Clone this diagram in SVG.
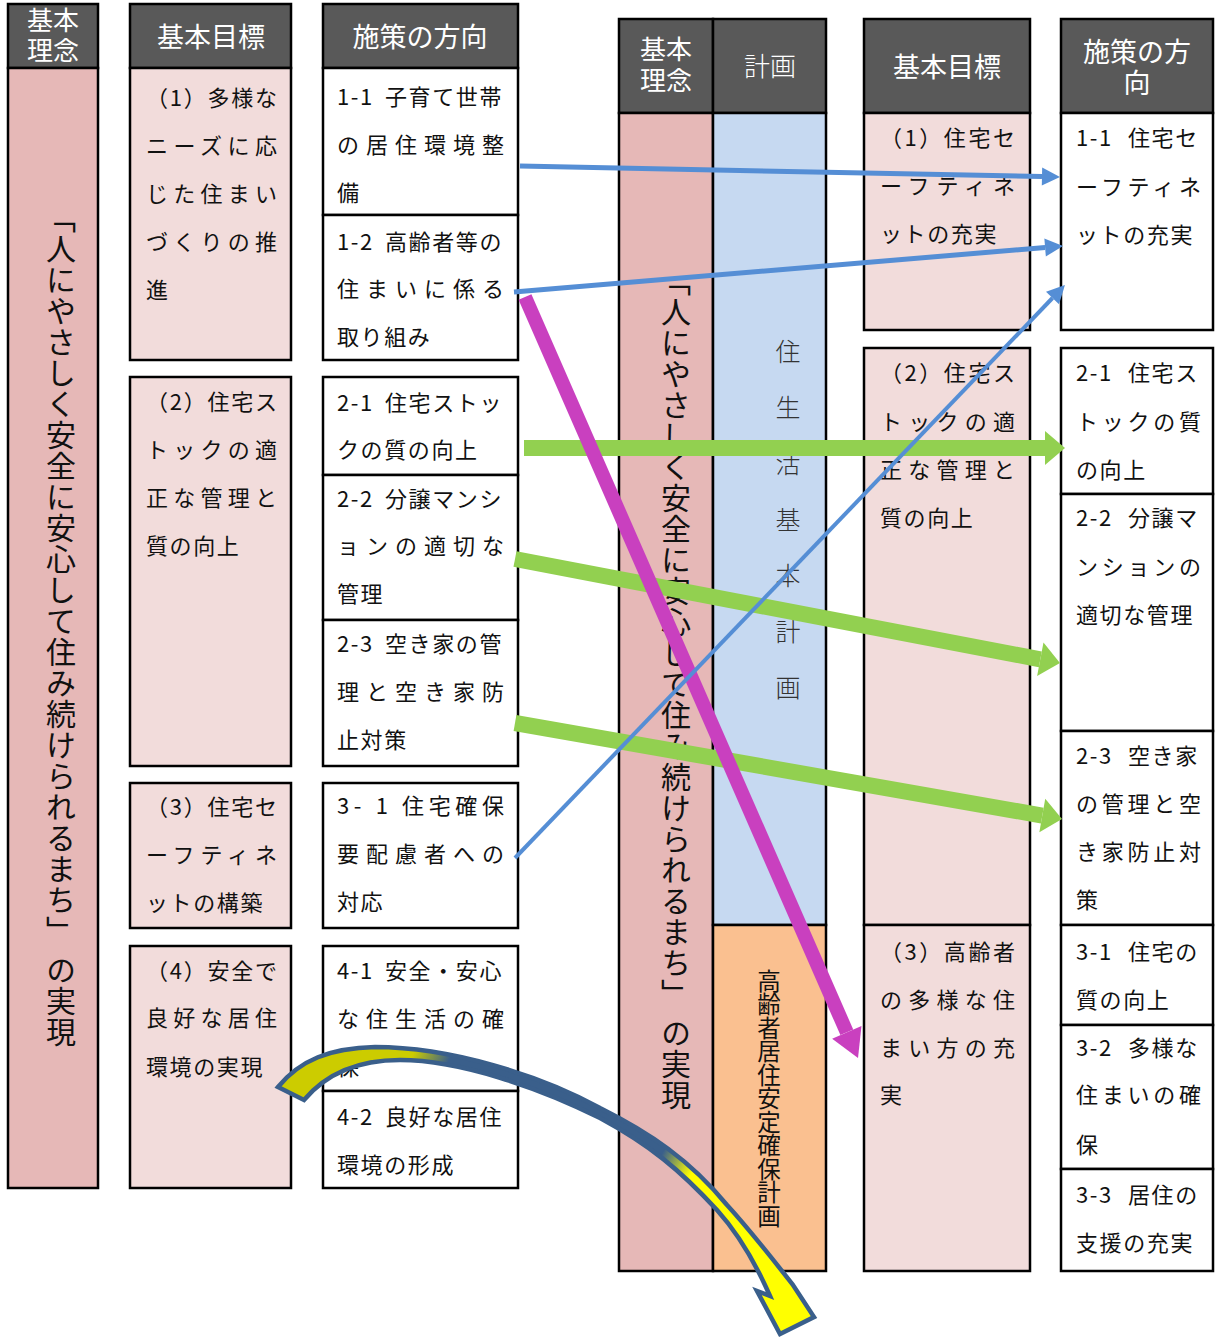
<svg xmlns="http://www.w3.org/2000/svg" width="1215" height="1338" viewBox="0 0 1215 1338">
<style>
rect{stroke:#000;stroke-width:2.5}
.hd{fill:#595959}
.pk{fill:#E6B8B7}
.lp{fill:#F2DCDB}
.wh{fill:#FFFFFF}
.bl{fill:#C6D9F1}
.or{fill:#FAC090}
text{font-family:"Noto Sans CJK JP","Noto Sans CJK SC",sans-serif}
.h{fill:#fff;font-size:27px;text-anchor:middle}
.t{fill:#111;font-size:22px}
.n{letter-spacing:1.6px}
.v{font-size:30px;fill:#111;writing-mode:vertical-rl;letter-spacing:1px}
</style>
<defs>
<marker id="mb" markerUnits="userSpaceOnUse" markerWidth="20" markerHeight="20" refX="0" refY="0" viewBox="0 -10 20 20" orient="auto" overflow="visible"><path d="M0,-9 L18,0 L0,9 Z" fill="#558ED5"/></marker>
<marker id="mg" markerUnits="userSpaceOnUse" markerWidth="22" markerHeight="36" refX="0" refY="0" viewBox="0 -18 22 36" orient="auto" overflow="visible"><path d="M0,-17 L20,0 L0,17 Z" fill="#92D050"/></marker>
<marker id="mm" markerUnits="userSpaceOnUse" markerWidth="30" markerHeight="34" refX="0" refY="0" viewBox="0 -17 30 34" orient="auto" overflow="visible"><path d="M0,-16 L28,0 L0,16 Z" fill="#C940BF"/></marker>
<linearGradient id="cg" gradientUnits="userSpaceOnUse" x1="280" y1="1060" x2="800" y2="1320">
<stop offset="0" stop-color="#CCCC00"/><stop offset="0.2" stop-color="#CCCC00"/><stop offset="0.26" stop-color="#3A5F8B"/><stop offset="0.66" stop-color="#3A5F8B"/><stop offset="0.72" stop-color="#FFFF00"/><stop offset="1" stop-color="#FFFF00"/>
</linearGradient>
</defs>

<!-- LEFT: 基本理念 -->
<g id="L-rinen">
<rect class="hd" x="8" y="4" width="90" height="64"/>
<rect class="pk" x="8" y="68" width="90" height="1120"/>
<text class="h" x="53" y="30" style="font-size:26px">基本</text>
<text class="h" x="53" y="60" style="font-size:26px">理念</text>
<text class="v" x="61" y="203">「人にやさしく安全に安心して住み続けられるまち」 の実現</text>
</g>

<!-- LEFT: 基本目標 -->
<g id="L-mokuhyo-header">
<rect class="hd" x="130" y="4" width="161" height="64"/>
<text class="h" x="211" y="47">基本目標</text>
</g>
<g id="L-goal1">
<rect class="lp" x="130" y="68" width="161" height="292"/>
<text class="t" x="146" y="106" textLength="131" lengthAdjust="spacing">（1）多様な</text>
<text class="t" x="146" y="154" textLength="131" lengthAdjust="spacing">ニーズに応</text>
<text class="t" x="146" y="202" textLength="131" lengthAdjust="spacing">じた住まい</text>
<text class="t" x="146" y="250" textLength="131" lengthAdjust="spacing">づくりの推</text>
<text class="t n" x="146" y="298">進</text>
</g>
<g id="L-goal2">
<rect class="lp" x="130" y="377" width="161" height="389"/>
<text class="t" x="146" y="410" textLength="131" lengthAdjust="spacing">（2）住宅ス</text>
<text class="t" x="146" y="458" textLength="131" lengthAdjust="spacing">トックの適</text>
<text class="t" x="146" y="506" textLength="131" lengthAdjust="spacing">正な管理と</text>
<text class="t n" x="146" y="554">質の向上</text>
</g>
<g id="L-goal3">
<rect class="lp" x="130" y="783" width="161" height="145"/>
<text class="t" x="146" y="815" textLength="131" lengthAdjust="spacing">（3）住宅セ</text>
<text class="t" x="146" y="863" textLength="131" lengthAdjust="spacing">ーフティネ</text>
<text class="t n" x="146" y="911">ットの構築</text>
</g>
<g id="L-goal4">
<rect class="lp" x="130" y="946" width="161" height="242"/>
<text class="t" x="146" y="979" textLength="131" lengthAdjust="spacing">（4）安全で</text>
<text class="t" x="146" y="1026" textLength="131" lengthAdjust="spacing">良好な居住</text>
<text class="t n" x="146" y="1075">環境の実現</text>
</g>

<!-- LEFT: 施策の方向 -->
<g id="L-sesaku-header">
<rect class="hd" x="323" y="4" width="195" height="64"/>
<text class="h" x="420" y="47">施策の方向</text>
</g>
<g id="L-p11">
<rect class="wh" x="323" y="68" width="195" height="147"/>
<text class="t n" x="337" y="105">1-1 <tspan x="385">子育て世帯</tspan></text>
<text class="t" x="337" y="153" textLength="167" lengthAdjust="spacing">の居住環境整</text>
<text class="t n" x="337" y="201">備</text>
</g>
<g id="L-p12">
<rect class="wh" x="323" y="215" width="195" height="145"/>
<text class="t n" x="337" y="250">1-2 <tspan x="385">高齢者等の</tspan></text>
<text class="t" x="337" y="297" textLength="167" lengthAdjust="spacing">住まいに係る</text>
<text class="t n" x="337" y="345">取り組み</text>
</g>
<g id="L-p21">
<rect class="wh" x="323" y="377" width="195" height="98"/>
<text class="t n" x="337" y="411">2-1 <tspan x="385">住宅ストッ</tspan></text>
<text class="t n" x="337" y="458">クの質の向上</text>
</g>
<g id="L-p22">
<rect class="wh" x="323" y="475" width="195" height="145"/>
<text class="t n" x="337" y="507">2-2 <tspan x="385">分譲マンシ</tspan></text>
<text class="t" x="337" y="554" textLength="167" lengthAdjust="spacing">ョンの適切な</text>
<text class="t n" x="337" y="602">管理</text>
</g>
<g id="L-p23">
<rect class="wh" x="323" y="620" width="195" height="146"/>
<text class="t n" x="337" y="652">2-3 <tspan x="385">空き家の管</tspan></text>
<text class="t" x="337" y="700" textLength="167" lengthAdjust="spacing">理と空き家防</text>
<text class="t n" x="337" y="748">止対策</text>
</g>
<g id="L-p31">
<rect class="wh" x="323" y="783" width="195" height="145"/>
<text class="t" x="337" y="814" textLength="167" lengthAdjust="spacing">3- 1 住宅確保</text>
<text class="t" x="337" y="862" textLength="167" lengthAdjust="spacing">要配慮者への</text>
<text class="t n" x="337" y="910">対応</text>
</g>
<g id="L-p41">
<rect class="wh" x="323" y="946" width="195" height="145"/>
<text class="t n" x="337" y="979">4-1 <tspan x="385">安全・安心</tspan></text>
<text class="t" x="337" y="1027" textLength="167" lengthAdjust="spacing">な住生活の確</text>
<text class="t n" x="337" y="1075">保</text>
</g>
<g id="L-p42">
<rect class="wh" x="323" y="1091" width="195" height="97"/>
<text class="t n" x="337" y="1125">4-2 <tspan x="385">良好な居住</tspan></text>
<text class="t n" x="337" y="1173">環境の形成</text>
</g>

<!-- RIGHT: 基本理念 / 計画 -->
<g id="R-rinen">
<rect class="hd" x="619" y="19" width="94" height="94"/>
<rect class="pk" x="619" y="113" width="94" height="1158"/>
<text class="h" x="666" y="59" style="font-size:26px">基本</text>
<text class="h" x="666" y="90" style="font-size:26px">理念</text>
<text class="v" x="676" y="266">「人にやさしく安全に安心して住み続けられるまち」 の実現</text>
</g>
<g id="R-keikaku">
<rect class="hd" x="713" y="19" width="113" height="94"/>
<text class="h" x="770" y="76" style="font-size:26px;font-weight:300">計画</text>
</g>
<g id="R-jyuseikatsu">
<rect class="bl" x="713" y="113" width="113" height="812"/>
<text x="788" y="339" style="font-size:25px;fill:#333;writing-mode:vertical-rl;letter-spacing:31px;font-weight:300">住生活基本計画</text>
</g>
<g id="R-koreisha">
<rect class="or" x="713" y="925" width="113" height="346"/>
<text x="769" y="969" style="font-size:23.5px;fill:#111;writing-mode:vertical-rl">高齢者居住安定確保計画</text>
</g>

<!-- RIGHT: 基本目標 -->
<g id="R-mokuhyo-header">
<rect class="hd" x="864" y="19" width="166" height="94"/>
<text class="h" x="947" y="77">基本目標</text>
</g>
<g id="R-goal1">
<rect class="lp" x="864" y="113" width="166" height="217"/>
<text class="t" x="880" y="146" textLength="135" lengthAdjust="spacing">（1）住宅セ</text>
<text class="t" x="880" y="194" textLength="135" lengthAdjust="spacing">ーフティネ</text>
<text class="t n" x="880" y="242">ットの充実</text>
</g>
<g id="R-goal2">
<rect class="lp" x="864" y="348" width="166" height="577"/>
<text class="t" x="880" y="381" textLength="135" lengthAdjust="spacing">（2）住宅ス</text>
<text class="t" x="880" y="430" textLength="135" lengthAdjust="spacing">トックの適</text>
<text class="t" x="880" y="478" textLength="135" lengthAdjust="spacing">正な管理と</text>
<text class="t n" x="880" y="526">質の向上</text>
</g>
<g id="R-goal3">
<rect class="lp" x="864" y="925" width="166" height="346"/>
<text class="t" x="880" y="960" textLength="135" lengthAdjust="spacing">（3）高齢者</text>
<text class="t" x="880" y="1008" textLength="135" lengthAdjust="spacing">の多様な住</text>
<text class="t" x="880" y="1056" textLength="135" lengthAdjust="spacing">まい方の充</text>
<text class="t n" x="880" y="1103">実</text>
</g>

<!-- RIGHT: 施策の方向 -->
<g id="R-sesaku-header">
<rect class="hd" x="1061" y="19" width="152" height="94"/>
<text class="h" x="1137" y="62">施策の方</text>
<text class="h" x="1137" y="93">向</text>
</g>
<g id="R-p11">
<rect class="wh" x="1061" y="113" width="152" height="217"/>
<text class="t n" x="1076" y="146">1-1 <tspan x="1128">住宅セ</tspan></text>
<text class="t" x="1076" y="195" textLength="125" lengthAdjust="spacing">ーフティネ</text>
<text class="t n" x="1076" y="243">ットの充実</text>
</g>
<g id="R-p21">
<rect class="wh" x="1061" y="348" width="152" height="146"/>
<text class="t n" x="1076" y="381">2-1 <tspan x="1128">住宅ス</tspan></text>
<text class="t" x="1076" y="430" textLength="125" lengthAdjust="spacing">トックの質</text>
<text class="t n" x="1076" y="478">の向上</text>
</g>
<g id="R-p22">
<rect class="wh" x="1061" y="494" width="152" height="237"/>
<text class="t n" x="1076" y="526">2-2 <tspan x="1128">分譲マ</tspan></text>
<text class="t" x="1076" y="575" textLength="125" lengthAdjust="spacing">ンションの</text>
<text class="t n" x="1076" y="623">適切な管理</text>
</g>
<g id="R-p23">
<rect class="wh" x="1061" y="731" width="152" height="194"/>
<text class="t n" x="1076" y="764">2-3 <tspan x="1128">空き家</tspan></text>
<text class="t" x="1076" y="812" textLength="125" lengthAdjust="spacing">の管理と空</text>
<text class="t" x="1076" y="860" textLength="125" lengthAdjust="spacing">き家防止対</text>
<text class="t n" x="1076" y="908">策</text>
</g>
<g id="R-p31">
<rect class="wh" x="1061" y="925" width="152" height="100"/>
<text class="t n" x="1076" y="960">3-1 <tspan x="1128">住宅の</tspan></text>
<text class="t n" x="1076" y="1008">質の向上</text>
</g>
<g id="R-p32">
<rect class="wh" x="1061" y="1025" width="152" height="144"/>
<text class="t n" x="1076" y="1056">3-2 <tspan x="1128">多様な</tspan></text>
<text class="t" x="1076" y="1103" textLength="125" lengthAdjust="spacing">住まいの確</text>
<text class="t n" x="1076" y="1153">保</text>
</g>
<g id="R-p33">
<rect class="wh" x="1061" y="1169" width="152" height="102"/>
<text class="t n" x="1076" y="1203">3-3 <tspan x="1128">居住の</tspan></text>
<text class="t n" x="1076" y="1251">支援の充実</text>
</g>

<!-- CONNECTORS -->
<g id="connectors" fill="none">
<line x1="520" y1="166" x2="1042" y2="176.6" stroke="#558ED5" stroke-width="5" marker-end="url(#mb)"/>
<line x1="514" y1="292" x2="1045.1" y2="247.5" stroke="#558ED5" stroke-width="5" marker-end="url(#mb)"/>
<line x1="524" y1="448" x2="1045" y2="448" stroke="#92D050" stroke-width="16" marker-end="url(#mg)"/>
<line x1="515" y1="559" x2="1040.3" y2="659.3" stroke="#92D050" stroke-width="16" marker-end="url(#mg)"/>
<line x1="515" y1="723" x2="1042.3" y2="815.6" stroke="#92D050" stroke-width="16" marker-end="url(#mg)"/>
<line x1="525" y1="297" x2="846.8" y2="1032.3" stroke="#C940BF" stroke-width="14" marker-end="url(#mm)"/>
<line x1="515" y1="858" x2="1052.5" y2="298" stroke="#558ED5" stroke-width="4" marker-end="url(#mb)"/>
<path d="M278,1087 C300,1060 330,1048 375,1047 C450,1047 540,1075 600,1108 C650,1133 690,1160 727,1205 C750,1230 775,1262 793,1285 L814,1317 L780,1334 L757,1291 L770,1296 C752,1255 735,1230 717,1210 C680,1170 650,1145 600,1118 C540,1088 460,1060 400,1060 C355,1060 325,1075 304,1100 Z" fill="url(#cg)" stroke="#3A5F8B" stroke-width="4.5" stroke-linejoin="miter"/>
</g>
</svg>
